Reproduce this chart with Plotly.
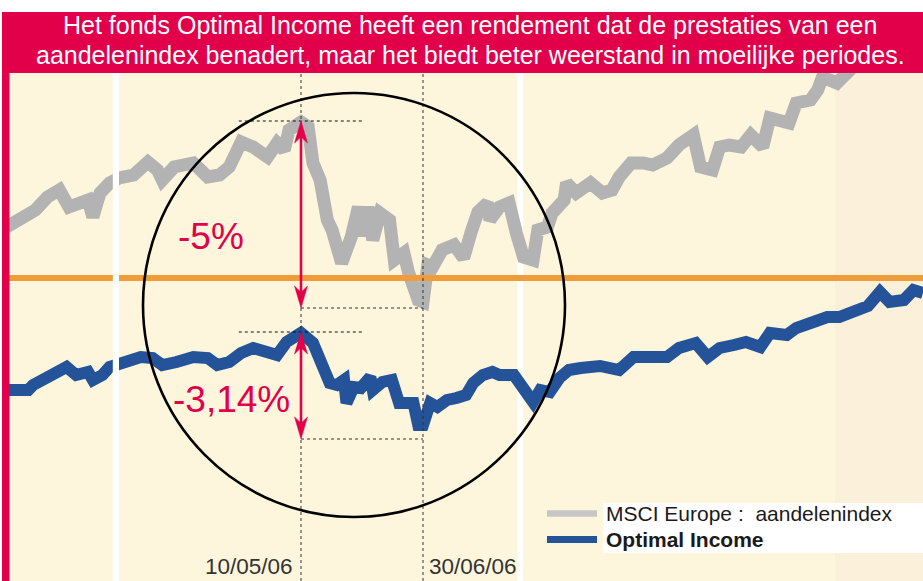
import plotly.graph_objects as go

# ---------------- data (x: days since 1 Jan 2006, y: chart level units) ----------------
msci_days = [6, 12, 18, 23, 28, 32, 37, 40, 42, 45, 49, 53, 59, 65, 69, 71, 76, 80, 84, 87,
             90, 95, 99, 104, 109, 115, 119, 122, 124, 129, 132, 134, 137, 140, 142, 146, 150, 153, 155, 157,
             159, 162, 166, 168, 172, 174, 176, 178, 180, 182, 184, 188, 193, 197, 200, 203, 207, 208, 212, 216,
             219, 222, 226, 228, 232, 234, 239, 240, 244, 250, 255, 259, 262, 267, 272, 276, 282, 287, 293, 296,
             301, 304, 308, 313, 317, 322, 325, 331, 333, 336, 342, 345, 347, 353, 357, 363, 371]
msci_level = [354, 361, 371, 384, 391, 374, 378, 381, 364, 388, 398, 403, 406, 419, 411, 401, 414, 416, 418, 411,
              404, 406, 414, 439, 434, 424, 438, 431, 451, 459, 454, 418, 401, 361, 351, 318, 344, 374, 345, 374,
              341, 368, 361, 321, 328, 308, 289, 281, 279, 316, 314, 331, 336, 323, 348, 369, 378, 361, 374, 378,
              348, 324, 321, 351, 354, 368, 381, 398, 388, 398, 388, 391, 404, 418, 418, 416, 423, 436, 446, 414,
              411, 434, 436, 434, 446, 434, 463, 461, 458, 478, 481, 491, 504, 498, 508, 526, 541]

oi_days = [6, 15, 17, 21, 25, 31, 35, 40, 42, 46, 49, 55, 62, 67, 71, 77, 84, 90, 94, 99,
           104, 109, 115, 119, 123, 129, 134, 138, 141, 144, 147, 148, 151, 154, 158, 159, 163, 167, 170, 176,
           178, 180, 183, 186, 190, 194, 198, 201, 205, 209, 212, 218, 222, 226, 229, 233, 237, 241, 246, 250,
           254, 262, 268, 275, 282, 287, 294, 299, 304, 310, 315, 321, 325, 332, 336, 342, 349, 354, 360, 366,
           371, 375, 381, 385, 389]
oi_level = [191, 191, 196, 201, 209, 214, 206, 209, 201, 206, 214, 219, 224, 223, 216, 219, 224, 223, 216, 219,
            228, 233, 229, 226, 239, 248, 238, 218, 198, 196, 201, 178, 194, 193, 204, 191, 199, 201, 178, 178,
            156, 156, 178, 174, 181, 183, 186, 198, 206, 209, 206, 206, 191, 179, 191, 189, 203, 211, 213, 213,
            215, 211, 224, 224, 224, 233, 238, 224, 233, 236, 239, 234, 248, 246, 253, 258, 264, 264, 271, 275,
            289, 279, 281, 291, 288]

reference_level = 303
date_days = [129, 180]
date_labels = ["10/05/06", "30/06/06"]
drop_labels = ["-5%", "-3,14%"]
legend_names = ["MSCI Europe :  aandelenindex", "<b>Optimal Income</b>"]
title_lines = ["Het fonds Optimal Income heeft een rendement dat de prestaties van een",
               "aandelenindex benadert, maar het biedt beter weerstand in moeilijke periodes."]

# ---------------- styling / geometry ----------------
W, H = 923, 581
ML, MR, MT, MB = 9, 0, 73, 0
PW, PH = W - ML - MR, H - MT - MB
XR = [6.94, 389.0]
YR = [0, 508]
DPP = (XR[1] - XR[0]) / PW  # days per pixel
UPP = (YR[1] - YR[0]) / PH  # level units per pixel

RED = "#E2004B"
GRAY = "#B3B3B3"
BLUE = "#245399"
ORANGE = "#F09C38"
BEIGE = "#FDF6DC"
BEIGE2 = "#FBF0DA"
FONT = "Liberation Sans, Arial, sans-serif"


def px_x(p):
    return (p - ML) / PW


def px_y(p):
    return (H - MB - p) / PH


def day_at(p):
    return XR[0] + (p - ML) * DPP


fig = go.Figure()
fig.add_trace(go.Scatter(x=msci_days, y=msci_level, mode="lines",
                         line=dict(color=GRAY, width=13), hoverinfo="skip", showlegend=False))
fig.add_trace(go.Scatter(x=oi_days, y=oi_level, mode="lines",
                         line=dict(color=BLUE, width=12), hoverinfo="skip", showlegend=False))

shapes = []
# background right band and second white stripe (below traces)
shapes.append(dict(type="rect", xref="x", yref="paper", x0=day_at(835), x1=XR[1], y0=0, y1=1,
                   fillcolor=BEIGE2, line=dict(width=0), layer="below"))
shapes.append(dict(type="rect", xref="x", yref="paper", x0=day_at(517.3), x1=day_at(523.3), y0=0, y1=1,
                   fillcolor="white", line=dict(width=0), layer="below"))
# reference level line
shapes.append(dict(type="line", xref="paper", yref="y", x0=0, x1=1, y0=reference_level, y1=reference_level,
                   line=dict(color=ORANGE, width=6), layer="above"))
# first white stripe (above)
shapes.append(dict(type="rect", xref="x", yref="paper", x0=day_at(112.8), x1=day_at(119), y0=0, y1=1,
                   fillcolor="white", line=dict(width=0), layer="above"))
# dotted verticals at dates
for d in date_days:
    shapes.append(dict(type="line", xref="x", yref="paper", x0=d, x1=d, y0=0, y1=1,
                       line=dict(color="#333333", width=1, dash="dot"), layer="above"))

# drawdown markers from data
peak_day, trough_day = date_days
half = 26  # half length (days) of the peak tick line
pairs = []
for lvl, days, pad in ((msci_level, msci_days, 6), (oi_level, oi_days, 14)):
    top = max(v for d, v in zip(days, lvl) if d == peak_day) + 1
    bot = min(v for d, v in zip(days, lvl) if peak_day <= d <= trough_day) - pad
    pairs.append((top, bot))
    shapes.append(dict(type="line", xref="x", yref="y", x0=peak_day - half, x1=peak_day + half, y0=top, y1=top,
                       line=dict(color="#111111", width=1, dash="dot"), layer="above"))
    shapes.append(dict(type="line", xref="x", yref="y", x0=peak_day, x1=trough_day, y0=bot, y1=bot,
                       line=dict(color="#333333", width=1, dash="dot"), layer="above"))

# circle highlighting the period
shapes.append(dict(type="circle", xref="x", yref="y", x0=day_at(143), x1=day_at(565),
                   y0=(H - 517) * UPP, y1=(H - 93) * UPP, line=dict(color="black", width=2.6), layer="above"))

# arrows
L = 22 * UPP
hw = 6.5 * DPP
for top, bot in pairs:
    shapes.append(dict(type="line", xref="x", yref="y", x0=peak_day, x1=peak_day, y0=top - 8, y1=bot + 8,
                       line=dict(color=RED, width=2.6), layer="above"))
    for tip, s in ((top, -1), (bot, 1)):
        path = (f"M{peak_day},{tip} L{peak_day - hw},{tip + s * L} L{peak_day},{tip + s * L * 0.72} "
                f"L{peak_day + hw},{tip + s * L} Z")
        shapes.append(dict(type="path", xref="x", yref="y", path=path, fillcolor=RED,
                           line=dict(color=RED, width=0.5), layer="above"))

# header and left border
shapes.append(dict(type="rect", xref="paper", yref="paper", x0=px_x(2), x1=px_x(W), y0=1, y1=px_y(12),
                   fillcolor=RED, line=dict(width=0), layer="above"))
shapes.append(dict(type="rect", xref="paper", yref="paper", x0=px_x(2), x1=px_x(9.5), y0=0, y1=1,
                   fillcolor=RED, line=dict(width=0), layer="above"))

# legend box and samples
shapes.append(dict(type="rect", xref="paper", yref="paper", x0=px_x(603), x1=1, y0=px_y(553), y1=px_y(503),
                   fillcolor="white", line=dict(width=0), layer="above"))
shapes.append(dict(type="line", xref="paper", yref="paper", x0=px_x(547), x1=px_x(597), y0=px_y(513.5),
                   y1=px_y(513.5), line=dict(color="#C6C6C6", width=6.5), layer="above"))
shapes.append(dict(type="line", xref="paper", yref="paper", x0=px_x(547), x1=px_x(597), y0=px_y(539.5),
                   y1=px_y(539.5), line=dict(color=BLUE, width=7), layer="above"))

annotations = []
# header text
for i, t in enumerate(title_lines):
    annotations.append(dict(text=t, xref="paper", yref="paper", x=px_x(470), y=px_y(25.5 + i * 29.5),
                            xanchor="center", yanchor="middle", showarrow=False,
                            font=dict(family=FONT, size=25, color="white")))
# drop labels
label_pos = [(day_at(211), (H - 236) * UPP), (day_at(231), (H - 399) * UPP)]
for (x, y), t in zip(label_pos, drop_labels):
    annotations.append(dict(text=t, xref="x", yref="y", x=x, y=y, xanchor="center", yanchor="middle",
                            showarrow=False, font=dict(family=FONT, size=37, color=RED)))
# date labels
annotations.append(dict(text=date_labels[0], xref="x", yref="paper", x=date_days[0] - 6 * DPP, y=0,
                        xanchor="right", yanchor="bottom", showarrow=False,
                        font=dict(family=FONT, size=22.5, color="#333333")))
annotations.append(dict(text=date_labels[1], xref="x", yref="paper", x=date_days[1] + 4 * DPP, y=0,
                        xanchor="left", yanchor="bottom", showarrow=False,
                        font=dict(family=FONT, size=22.5, color="#333333")))
# legend text
for i, t in enumerate(legend_names):
    annotations.append(dict(text=t, xref="paper", yref="paper", x=px_x(604), y=px_y(513.5 + i * 26),
                            xanchor="left", yanchor="middle", showarrow=False,
                            font=dict(family=FONT, size=21, color="#1A1A1A")))

fig.update_layout(
    width=W, height=H,
    margin=dict(l=ML, r=MR, t=MT, b=MB, pad=0),
    paper_bgcolor="white", plot_bgcolor=BEIGE,
    xaxis=dict(range=XR, visible=False, fixedrange=True),
    yaxis=dict(range=YR, visible=False, fixedrange=True),
    shapes=shapes, annotations=annotations, showlegend=False,
)

fig.write_html("out.html", config={"displayModeBar": False},
               post_script="document.body.style.margin='0px';")
